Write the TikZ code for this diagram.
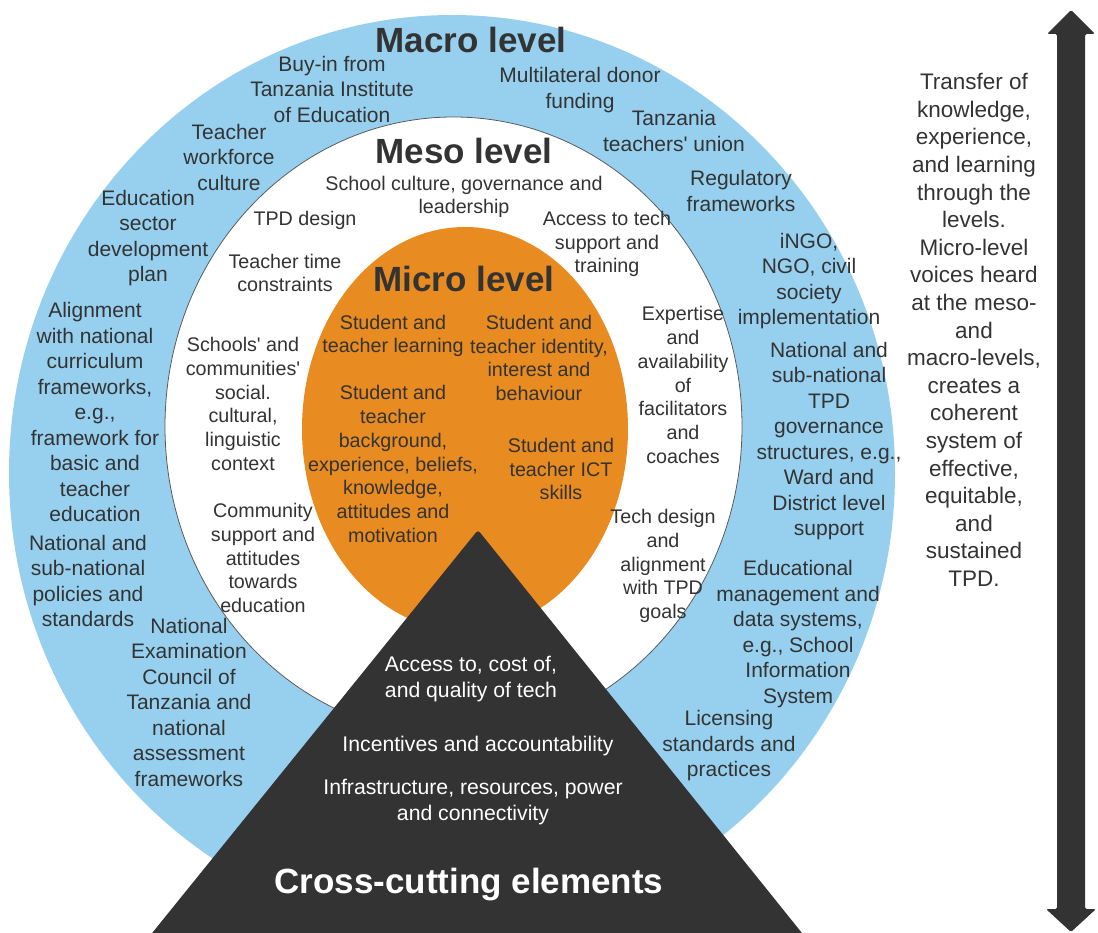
\documentclass[tikz,border=0pt]{standalone}
\usepackage{fontspec}
\setmainfont{Liberation Sans}
\definecolor{macroblue}{RGB}{150,208,238}
\definecolor{microorange}{RGB}{232,139,32}
\definecolor{txtgray}{RGB}{51,51,51}
\definecolor{trigray}{RGB}{51,51,51}
\definecolor{rimgray}{RGB}{90,90,90}
\newcommand{\sq}{\textquotesingle}
\tikzset{
  base/.style={align=center, inner sep=0pt, text=txtgray},
  macrotxt/.style={base, font=\fontsize{21}{25.5}\selectfont},
  mesotxt/.style={base, font=\fontsize{19.7}{23.8}\selectfont},
  microtxt/.style={base, font=\fontsize{19.7}{23.7}\selectfont},
  tritxt/.style={base, text=white, font=\fontsize{21.2}{25.5}\selectfont},
  sidetxt/.style={base, font=\fontsize{22.5}{27.6}\selectfont},
  leveltitle/.style={base, font=\bfseries\fontsize{35}{40}\selectfont},
}
\begin{document}
\begin{tikzpicture}[x=1pt,y=-1pt]
\useasboundingbox (0,0) rectangle (1098,933);
\begin{scope}
\clip (0,0) rectangle (1098,933);
% rings
\fill[macroblue] (452,473) ellipse [x radius=443pt, y radius=458pt];
\filldraw[fill=white, draw=rimgray, line width=0.8pt] (453.5,426.4) ellipse [x radius=288.5pt, y radius=309.4pt];
\fill[microorange] (465,429) ellipse [x radius=163pt, y radius=202pt];
% cross-cutting triangle
\fill[trigray, rounded corners=3pt] (478,530) -- (814,948) -- (140,948) -- cycle;
\end{scope}
% double arrow
\fill[trigray, rounded corners=1.5pt] (1071,10) -- (1095,34) -- (1085,34) -- (1085,909) -- (1096,909)
  -- (1071,932) -- (1046,909) -- (1057,909) -- (1057,34) -- (1047,34) -- cycle;

% titles
\node[leveltitle] (macro) at (471,40) {Macro level};
\node[leveltitle] (meso) at (464,151) {Meso level};
\node[leveltitle] (micro) at (464,279) {Micro level};
\node[leveltitle, text=white] (cross) at (469,885) {Cross-cutting elements};

% macro level
\node[macrotxt] (m1) at (332,89) {Buy-in from\\Tanzania Institute\\of Education};
\node[macrotxt] (m2) at (580,90) {Multilateral donor\\funding};
\node[macrotxt] (m3) at (674,131) {Tanzania\\teachers\sq{} union};
\node[macrotxt] (m4) at (229,157) {Teacher\\workforce\\culture};
\node[macrotxt] (m5) at (741,191) {Regulatory\\frameworks};
\node[macrotxt] (m6) at (148,238) {Education\\sector\\development\\plan};
\node[macrotxt] (m7) at (809,281) {iNGO,\\NGO, civil\\society\\implementation};
\node[macrotxt] (m8) at (95,412) {Alignment\\with national\\curriculum\\frameworks,\\e.g.,\\framework for\\basic and\\teacher\\education};
\node[macrotxt] (m9) at (829,441) {National and\\sub-national\\TPD\\governance\\structures, e.g.,\\Ward and\\District level\\support};
\node[macrotxt] (m10) at (88,581) {National and\\sub-national\\policies and\\standards};
\node[macrotxt] (m11) at (189,702) {National\\Examination\\Council of\\Tanzania and\\national\\assessment\\frameworks};
\node[macrotxt] (m12) at (798,634) {Educational\\management and\\data systems,\\e.g., School\\Information\\System};
\node[macrotxt] (m13) at (729,746) {Licensing\\standards and\\practices};

% meso level
\node[mesotxt] (s1) at (464,197) {School culture, governance and\\leadership};
\node[mesotxt] (s2) at (305,220) {TPD design};
\node[mesotxt] (s3) at (607,244) {Access to tech\\support and\\training};
\node[mesotxt] (s4) at (285,273) {Teacher time\\constraints};
\node[mesotxt] (s5) at (243,404) {Schools\sq{} and\\communities\sq\\social.\\cultural,\\linguistic\\context};
\node[mesotxt] (s6) at (683,385) {Expertise\\and\\availability\\of\\facilitators\\and\\coaches};
\node[mesotxt] (s7) at (263,558) {Community\\support and\\attitudes\\towards\\education};
\node[mesotxt] (s8) at (663,566) {Tech design\\and\\alignment\\with TPD\\goals};

% micro level
\node[microtxt] (c1) at (393,336) {Student and\\teacher learning};
\node[microtxt] (c2) at (539,358) {Student and\\teacher identity,\\interest and\\behaviour};
\node[microtxt] (c3) at (393,464) {Student and\\teacher\\background,\\experience, beliefs,\\knowledge,\\attitudes and\\motivation};
\node[microtxt] (c4) at (561,469) {Student and\\teacher ICT\\skills};

% cross-cutting
\node[tritxt] (t1) at (471,679) {Access to, cost of,\\and quality of tech};
\node[tritxt] (t2) at (478,746) {Incentives and accountability};
\node[tritxt] (t3) at (473,802) {Infrastructure, resources, power\\and connectivity};

% side text
\node[sidetxt] (side) at (974,330) {Transfer of\\knowledge,\\experience,\\and learning\\through the\\levels.\\Micro-level\\voices heard\\at the meso-\\and\\macro-levels,\\creates a\\coherent\\system of\\effective,\\equitable,\\and\\sustained\\TPD.};
\end{tikzpicture}
\end{document}
